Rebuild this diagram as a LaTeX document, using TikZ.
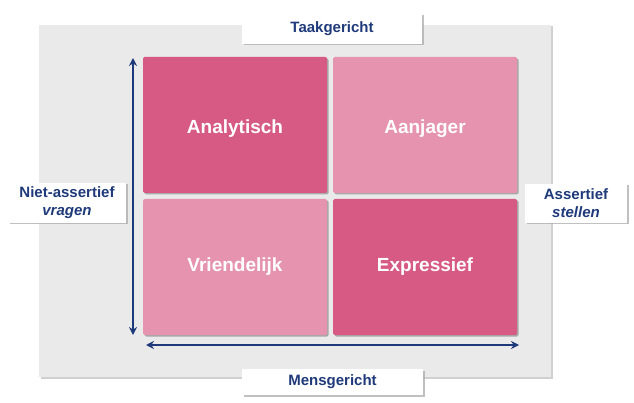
\documentclass[tikz,border=0pt]{standalone}
\usepackage{fontspec}
\setmainfont{Liberation Sans}
\usetikzlibrary{shadows,arrows.meta}
\definecolor{darkpink}{HTML}{D65A84}
\definecolor{lightpink}{HTML}{E593AE}
\definecolor{panelgrey}{HTML}{EAEAEA}
\definecolor{navy}{HTML}{1F3A7A}
\tikzset{
  cell/.style={rectangle, rounded corners=1.5pt, minimum width=184pt, minimum height=136pt,
    inner sep=0pt, text=white, font=\fontsize{19}{21}\selectfont\bfseries,
    drop shadow={shadow xshift=1.5pt, shadow yshift=-1.5pt, fill=black!45, opacity=0.7}},
  toprow/.style={text height=18pt, text depth=0pt},
  labelbox/.style={rectangle, fill=white, inner sep=0pt, text=navy, align=center,
    font=\fontsize{15}{18}\selectfont\bfseries,
    drop shadow={shadow xshift=1.5pt, shadow yshift=-1.5pt, fill=black!35, opacity=0.7}},
  axis/.style={draw=navy, line width=1.8pt, {Stealth[length=8pt,width=8pt]}-{Stealth[length=8pt,width=8pt]}}
}
\begin{document}
\begin{tikzpicture}[x=1pt,y=-1pt]
\useasboundingbox (0,0) rectangle (634,403);
\fill[white] (0,0) rectangle (634,403);
% panel
\node[rectangle, fill=panelgrey, minimum width=512pt, minimum height=352pt, inner sep=0pt,
  drop shadow={shadow xshift=1.5pt, shadow yshift=-1.5pt, fill=black!30, opacity=0.6}] (panel) at (295,201) {};
% cells
\node[cell, toprow, fill=darkpink] (ana) at (235,125) {Analytisch};
\node[cell, toprow, fill=lightpink] (aan) at (425,125) {Aanjager};
\node[cell, fill=lightpink] (vri) at (235,267) {Vriendelijk};
\node[cell, fill=darkpink] (exp) at (425,267) {Expressief};
% labels
\node[labelbox, minimum width=180pt, minimum height=30pt] (taak) at (332,29) {Taakgericht};
\node[labelbox, minimum width=181pt, minimum height=26pt] (mens) at (332.5,382) {Mensgericht};
\node[labelbox, minimum width=118pt, minimum height=40pt] (niet) at (67,203) {Niet-assertief\\\textit{vragen}};
\node[labelbox, minimum width=102pt, minimum height=39pt] (ass) at (576,203.5) {Assertief\\\textit{stellen}};
% axes
\coordinate (vtop) at (133,58);
\coordinate (vbot) at (133,335);
\coordinate (hleft) at (146,345);
\coordinate (hright) at (519,345);
\draw[axis] (vbot) -- (vtop);
\draw[axis] (hleft) -- (hright);
\end{tikzpicture}
\end{document}
